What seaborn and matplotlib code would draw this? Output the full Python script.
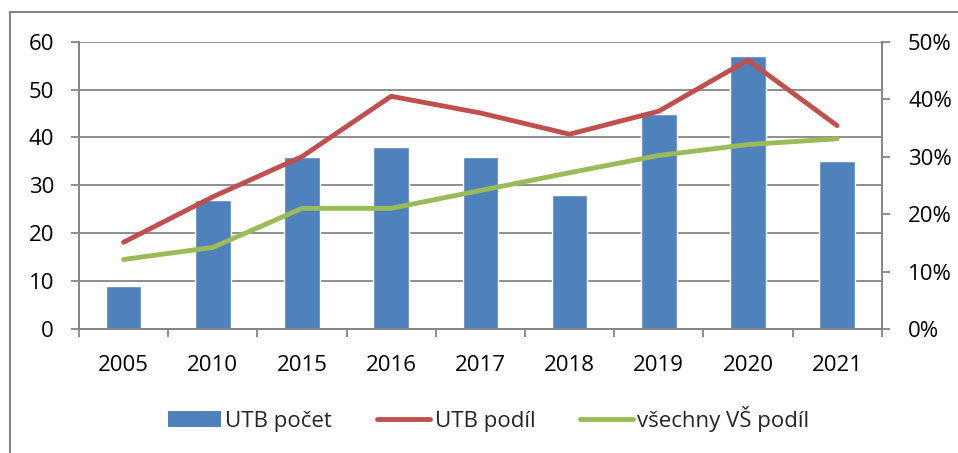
import matplotlib
matplotlib.use("Agg")
import matplotlib.pyplot as plt
import seaborn as sns
import pandas as pd
from matplotlib.lines import Line2D
from matplotlib.patches import Patch, Rectangle
from matplotlib.ticker import PercentFormatter, FixedLocator

# data
years = ["2005", "2010", "2015", "2016", "2017", "2018", "2019", "2020", "2021"]
utb_count = [9, 27, 36, 38, 36, 28, 45, 57, 35]
utb_share = [0.151, 0.230, 0.300, 0.405, 0.376, 0.339, 0.379, 0.468, 0.354]
all_share = [0.121, 0.142, 0.210, 0.210, 0.241, 0.272, 0.302, 0.321, 0.331]

BLUE = "#4F81BD"
RED = "#C0504D"
GREEN = "#9BBB59"
GRAY = "#868686"

sns.set_theme(style="white")
plt.rcParams["font.family"] = ["Open Sans", "DejaVu Sans"]

df = pd.DataFrame({"rok": years, "pocet": utb_count,
                   "utb": utb_share, "vse": all_share})

fig = plt.figure(figsize=(9.58, 4.53), dpi=100)
ax = fig.add_axes([79 / 958, 1 - 329 / 453, (881.7 - 79) / 958, (329 - 41.7) / 453])

sns.barplot(data=df, x="rok", y="pocet", color=BLUE, width=0.4,
            saturation=1, ax=ax, zorder=2)
ax.set_xlim(-0.5, len(years) - 0.5)
ax.set_ylim(0, 60)
ax.set_yticks(range(0, 61, 10))
ax.set_axisbelow(True)
ax.yaxis.grid(True, color=GRAY, linewidth=1.3)
ax.set_xlabel("")
ax.set_ylabel("")

ax2 = ax.twinx()
sns.lineplot(data=df, x="rok", y="utb", color=RED, linewidth=3.5,
             sort=False, ax=ax2)
sns.lineplot(data=df, x="rok", y="vse", color=GREEN, linewidth=3.5,
             sort=False, ax=ax2)
ax2.set_ylim(0, 0.5)
ax2.set_yticks([i / 10 for i in range(6)])
ax2.yaxis.set_major_formatter(PercentFormatter(1.0, decimals=0))
ax2.set_xlim(-0.5, len(years) - 0.5)
ax2.set_ylabel("")
ax2.set_xlabel("")

for a in (ax, ax2):
    for s in a.spines.values():
        s.set_color(GRAY)
        s.set_linewidth(1.3)
ax.spines["top"].set_visible(False)
ax2.spines["top"].set_visible(False)

# x ticks at category boundaries, labels centred
ax.xaxis.set_major_locator(FixedLocator([i - 0.5 for i in range(len(years) + 1)]))
ax.xaxis.set_minor_locator(FixedLocator(list(range(len(years)))))
ax.xaxis.set_minor_formatter(matplotlib.ticker.FixedFormatter(years))
ax.xaxis.set_major_formatter(matplotlib.ticker.NullFormatter())
ax.tick_params(axis="x", which="major", direction="out", length=6,
               width=1.3, color=GRAY, bottom=True)
ax.tick_params(axis="x", which="minor", length=0, pad=19,
               labelsize=16, labelcolor="black")
ax.tick_params(axis="y", direction="out", length=6, width=1.3, color=GRAY,
               left=True, pad=12, labelsize=16, labelcolor="black")
ax2.tick_params(axis="y", direction="out", length=6, width=1.3, color=GRAY,
                right=True, pad=13, labelsize=16, labelcolor="black")

handles = [Patch(facecolor=BLUE, edgecolor="none"),
           Line2D([], [], color=RED, linewidth=3.5),
           Line2D([], [], color=GREEN, linewidth=3.5)]
labels = ["UTB počet", "UTB podíl", "všechny VŠ podíl"]
fig.legend(handles, labels, loc="center", bbox_to_anchor=(0.51, 1 - 419 / 453),
           ncol=3, frameon=False, fontsize=16, handlelength=2.4,
           handletextpad=0.2, columnspacing=2.0)

# outer chart frame (cropped at right and bottom)
fig.patches.append(Rectangle((10 / 958, -0.05), 1.2, 1 - 12 / 453 + 0.05,
                             transform=fig.transFigure, fill=False,
                             edgecolor=GRAY, linewidth=1.5))

fig.savefig("out.png", dpi=100)
